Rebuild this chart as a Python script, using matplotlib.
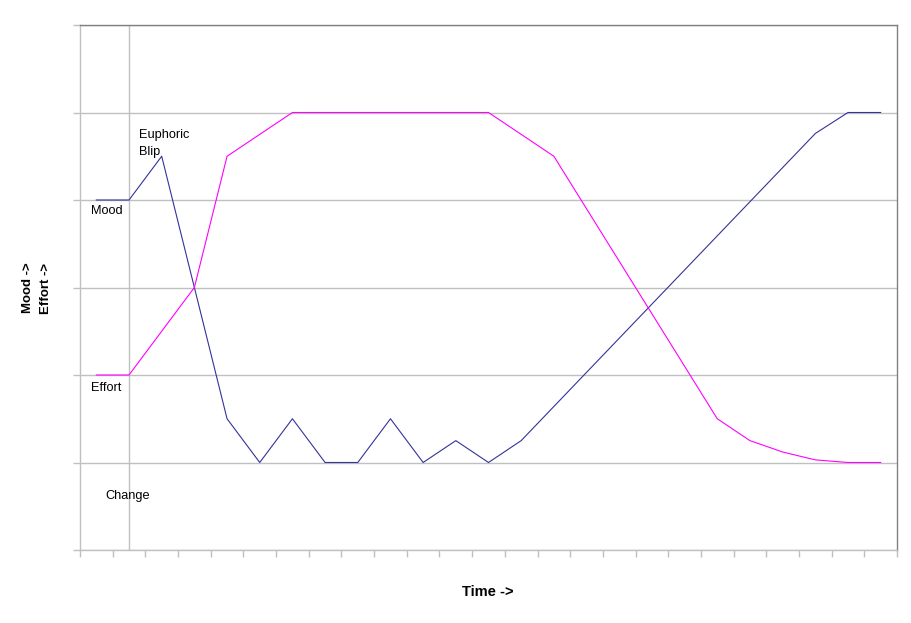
import matplotlib
matplotlib.use("Agg")
import matplotlib.pyplot as plt

# Data (25 time steps)
mood = [4, 4, 4.5, 3, 1.5, 1, 1.5, 1, 1, 1.5, 1, 1.25, 1, 1.25,
        1.64, 2.03, 2.42, 2.81, 3.2, 3.59, 3.98, 4.37, 4.76, 5, 5]
effort = [2, 2, 2.5, 3, 4.5, 4.75, 5, 5, 5, 5, 5, 5, 5, 4.75,
          4.5, 3.9, 3.3, 2.7, 2.1, 1.5, 1.25, 1.12, 1.03, 1.0, 1.0]
change_index = 1

W, H = 911, 623
fig = plt.figure(figsize=(W / 100, H / 100), dpi=100)
ax = fig.add_axes([80 / W, (H - 550) / H, (897 - 80) / W, (550 - 25) / H])

n = len(mood)
x = list(range(n))
ax.set_xlim(-0.5, n - 0.5)
ax.set_ylim(0, 6)

ax.set_yticks(range(0, 7))
ax.set_xticks([i - 0.5 for i in range(n + 1)])
ax.set_xticklabels([])
ax.set_yticklabels([])
ax.tick_params(axis='both', direction='out', length=5, width=1, color='#C0C0C0')
ax.grid(axis='y', color='#C0C0C0', linewidth=1)
ax.set_axisbelow(True)

for s in ['left', 'bottom']:
    ax.spines[s].set_color('#C0C0C0')
    ax.spines[s].set_linewidth(1)
for s in ['top', 'right']:
    ax.spines[s].set_color('#808080')
    ax.spines[s].set_linewidth(1)

ax.axvline(change_index, color='#C0C0C0', linewidth=1, zorder=1)

ax.plot(x, mood, color='#333399', linewidth=0.8, zorder=3)
ax.plot(x, effort, color='#FF00FF', linewidth=0.8, zorder=3)

fs = 9.2
fam = ['Liberation Sans', 'DejaVu Sans']
ax.text(1.305, 4.71, 'Euphoric', fontsize=fs, family=fam, va='baseline', ha='left')
ax.text(1.305, 4.51, 'Blip', fontsize=fs, family=fam, va='baseline', ha='left')
ax.text(-0.173, 3.843, 'Mood', fontsize=fs, family=fam, va='baseline', ha='left')
ax.text(-0.173, 1.817, 'Effort', fontsize=fs, family=fam, va='baseline', ha='left')
ax.text(0.286, 0.583, 'Change', fontsize=fs, family=fam, va='baseline', ha='left')

fig.text(28 / W, 1 - 288 / H, 'Mood ->', rotation=90, fontsize=9.5, family=fam,
         fontweight='bold', ha='center', va='center')
fig.text(46 / W, 1 - 288 / H, 'Effort ->', rotation=90, fontsize=9.5, family=fam,
         fontweight='bold', ha='center', va='center')
fig.text(488 / W, 1 - 592 / H, 'Time ->', fontsize=10.5, family=fam,
         fontweight='bold', ha='center', va='center')

fig.savefig('out.png', dpi=100, facecolor='white')
